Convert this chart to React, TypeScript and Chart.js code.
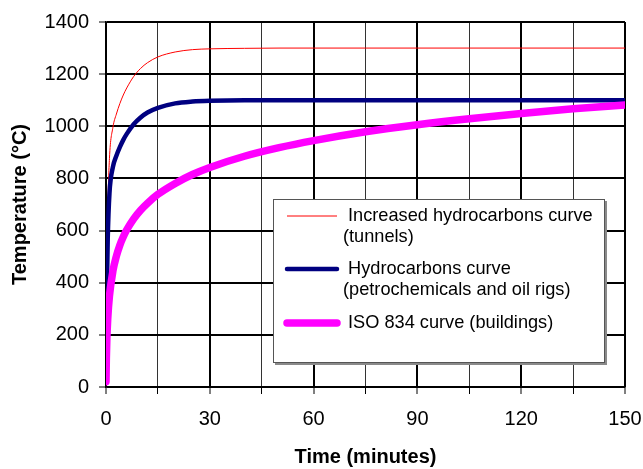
import React, { useEffect, useRef } from 'react';
import { Chart, registerables } from 'chart.js';

Chart.register(...registerables);

// Time (minutes)
const timeMin = [0, 0.1, 0.25, 0.5, 1, 2, 3, 4, 5, 6, 8, 10, 12, 15, 20, 25, 30, 40, 50, 60, 75, 90, 105, 120, 135, 150];
// Increased hydrocarbons curve (tunnels)
const increasedHC = [20, 218, 439, 670, 877, 996, 1047, 1087, 1120, 1147, 1191, 1222, 1244, 1266, 1285, 1294, 1297, 1299, 1300, 1300, 1300, 1300, 1300, 1300, 1300, 1300];
// Hydrocarbons curve (petrochemicals and oil rigs)
const hydrocarbons = [20, 187, 373, 568, 743, 844, 887, 920, 948, 971, 1008, 1034, 1053, 1071, 1088, 1095, 1098, 1100, 1100, 1100, 1100, 1100, 1100, 1100, 1100, 1100];
// ISO 834 curve (buildings)
const iso834 = [20, 108, 185, 261, 349, 445, 502, 544, 576, 603, 645, 678, 705, 739, 781, 815, 842, 885, 918, 945, 979, 1006, 1029, 1049, 1067, 1082];

const legendLines = [
  [' Increased hydrocarbons curve', '(tunnels)'],
  [' Hydrocarbons curve', '(petrochemicals and oil rigs)'],
  [' ISO 834 curve (buildings)'],
];

const xTitle = 'Time (minutes)';
const yTitle = 'Temperature (°C)';

const FONT = '"Liberation Sans", Arial, sans-serif';

const toPts = (vals: number[]) => vals.map((v, i) => ({ x: timeMin[i], y: v }));

const boxLegend = {
  id: 'boxLegend',
  afterDatasetsDraw(chart: any) {
    const ctx = chart.ctx as CanvasRenderingContext2D;
    const bx = 273, by = 199, bw = 332, bh = 164;
    ctx.save();
    ctx.fillStyle = '#8a8a8a';
    ctx.fillRect(bx + 2, by + 2, bw, bh);
    ctx.fillStyle = '#ffffff';
    ctx.fillRect(bx, by, bw, bh);
    ctx.strokeStyle = '#555';
    ctx.lineWidth = 1;
    ctx.strokeRect(bx + 0.5, by + 0.5, bw - 1, bh - 1);
    const rows = [216, 269, 323];
    ctx.font = `18.2px ${FONT}`;
    ctx.textBaseline = 'middle';
    ctx.textAlign = 'left';
    chart.data.datasets.forEach((ds: any, i: number) => {
      const y = rows[i];
      ctx.strokeStyle = ds.borderColor;
      ctx.lineWidth = ds.borderWidth;
      ctx.lineCap = ds.borderWidth > 2 ? 'round' : 'butt';
      ctx.beginPath();
      ctx.moveTo(287, y);
      ctx.lineTo(337, y);
      ctx.stroke();
      ctx.fillStyle = '#000';
      legendLines[i].forEach((t, j) => {
        ctx.fillText(t, 343, y + j * 21);
      });
    });
    ctx.restore();
  },
};

export default function App() {
  const ref = useRef<HTMLCanvasElement>(null);
  useEffect(() => {
    if (!ref.current) return;
    const chart = new Chart(ref.current, {
      type: 'line',
      data: {
        datasets: [
          {
            label: legendLines[0].join(' '),
            data: toPts(increasedHC),
            borderColor: '#ff0000',
            borderWidth: 1,
            pointRadius: 0,
            cubicInterpolationMode: 'monotone',
            order: 3,
          },
          {
            label: legendLines[1].join(' '),
            data: toPts(hydrocarbons),
            borderColor: '#000080',
            borderWidth: 4.5,
            pointRadius: 0,
            borderCapStyle: 'round',
            cubicInterpolationMode: 'monotone',
            order: 2,
          },
          {
            label: legendLines[2].join(' '),
            data: toPts(iso834),
            borderColor: '#ff00ff',
            borderWidth: 7.5,
            pointRadius: 0,
            borderCapStyle: 'round',
            cubicInterpolationMode: 'monotone',
            order: 1,
          },
        ],
      },
      options: {
        responsive: false,
        animation: false,
        layout: { padding: { top: 21, right: 18, left: 0, bottom: 0 } },
        plugins: { legend: { display: false }, tooltip: { enabled: false } },
        scales: {
          x: {
            type: 'linear',
            min: 0,
            max: 150,
            afterFit: (s: any) => { s.height = 82; s.paddingRight = 0; s.paddingLeft = 0; },
            ticks: {
              stepSize: 15,
              autoSkip: false,
              maxRotation: 0,
              padding: 13,
              color: '#000',
              font: { family: FONT, size: 20 },
              callback: (v: any) => (Number(v) % 30 === 0 ? String(v) : ''),
            },
            grid: {
              color: (c: any) => (c.tick && c.tick.value % 30 === 0 ? '#000' : '#333'),
              lineWidth: (c: any) => (c.tick && c.tick.value % 30 === 0 ? 2 : 1),
              tickLength: 7,
              tickWidth: 1,
              tickColor: '#000',
            },
            border: { color: '#000', width: 1.5 },
            title: {
              display: true,
              text: xTitle,
              color: '#000',
              font: { family: FONT, size: 20, weight: 'bold' },
              padding: { top: 1, bottom: 0 },
            },
          },
          y: {
            min: 0,
            max: 1400,
            afterFit: (s: any) => { s.width = 106; },
            ticks: {
              stepSize: 200,
              padding: 10,
              color: '#000',
              font: { family: FONT, size: 20 },
              callback: (v: any) => String(v),
            },
            grid: {
              color: '#000',
              lineWidth: 2,
              tickLength: 7,
              tickWidth: 1,
              tickColor: '#000',
            },
            border: { color: '#000', width: 1.5 },
            title: {
              display: true,
              text: yTitle,
              color: '#000',
              font: { family: FONT, size: 20, weight: 'bold' },
              padding: { top: 8, bottom: 0 },
            },
          },
        },
      },
      plugins: [boxLegend],
    } as any);
    return () => chart.destroy();
  }, []);
  return (
    <div style={{ position: 'absolute', left: 0, top: 0, width: 643, height: 469, background: '#fff' }}>
      <canvas ref={ref} width={643} height={469} />
    </div>
  );
}
